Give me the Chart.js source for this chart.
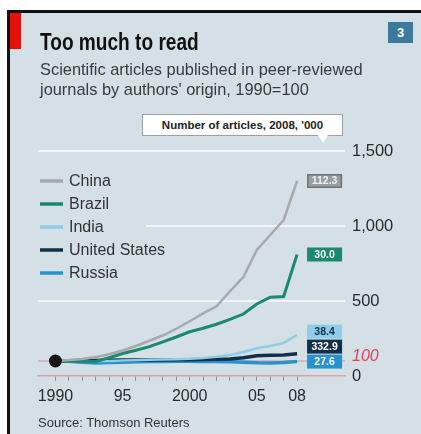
<!DOCTYPE html>
<html>
<head>
<meta charset="utf-8">
<script src="https://cdn.jsdelivr.net/npm/chart.js@4.4.1/dist/chart.umd.min.js"></script>
<style>
  html, body { margin: 0; padding: 0; background: #fff; }
  body { width: 421px; height: 434px; position: relative; overflow: hidden; font-family: "Liberation Sans", Arial, sans-serif; color: #222; }
  #panel { position: absolute; left: 7px; top: 10px; right: 0; bottom: 0; background: #d4dfe6; border-left: 3px solid #111; border-top: 3px solid #111; }
  #redtag { position: absolute; left: 10px; top: 13px; width: 11px; height: 36px; background: #e3120b; }
  #badge { position: absolute; left: 388px; top: 22px; width: 25px; height: 21px; background: #3b7a9b; color: #fff; font: bold 13px "Liberation Sans", sans-serif; text-align: center; line-height: 21px; }
  #title { position: absolute; left: 40px; top: 29px; font: bold 23px "Liberation Sans", sans-serif; color: #111; white-space: nowrap; transform: scaleX(0.83); transform-origin: left top; }
  #subtitle { position: absolute; left: 40px; top: 59px; font: 16.4px/20px "Liberation Sans", sans-serif; color: #3a3a3a; white-space: nowrap; }
  #note { position: absolute; left: 142px; top: 114px; width: 199px; height: 20px; background: #fff; border: 1px solid #9aa1a6; font: bold 11.5px/20px "Liberation Sans", sans-serif; color: #222; text-align: center; white-space: nowrap; }
  #note:after { content: ""; position: absolute; left: 175px; top: 20px; border-left: 5px solid transparent; border-right: 5px solid transparent; border-top: 8px solid #fff; }
  #source { position: absolute; left: 38px; top: 415px; font: 13px "Liberation Sans", sans-serif; color: #333; white-space: nowrap; }
  canvas { position: absolute; left: 0; top: 0; }
</style>
</head>
<body>
<div id="panel"></div>
<div id="redtag"></div>
<canvas id="chart" width="421" height="434"></canvas>
<div id="badge">3</div>
<div id="title">Too much to read</div>
<div id="subtitle">Scientific articles published in peer-reviewed<br>journals by authors' origin, 1990=100</div>
<div id="note">Number of articles, 2008, '000</div>
<div id="source">Source: Thomson Reuters</div>
<script>
const years = [1990, 1991, 1992, 1993, 1994, 1995, 1996, 1997, 1998, 1999, 2000, 2001, 2002, 2003, 2004, 2005, 2006, 2007, 2008];
const yearLabels = { 1990: '1990', 1995: '95', 2000: '2000', 2005: '05', 2008: '08' };

const seriesNames = ['China', 'Brazil', 'India', 'United States', 'Russia'];
const china  = [100, 106, 114, 126, 145, 170, 200, 235, 270, 315, 365, 418, 465, 565, 660, 840, 940, 1040, 1300];
const brazil = [100, 102, 98, 97, 122, 150, 172, 196, 228, 260, 295, 318, 345, 378, 413, 480, 525, 530, 810];
const india  = [100, 102, 100, 98, 100, 103, 105, 108, 110, 112, 115, 120, 128, 140, 160, 185, 200, 220, 275];
const usa    = [100, 102, 103, 104, 105, 106, 106, 107, 107, 108, 109, 110, 111, 113, 122, 135, 138, 140, 148];
const russia = [100, 98, 92, 86, 90, 92, 95, 96, 97, 98, 98, 97, 96, 95, 92, 88, 86, 90, 96];
// number of articles in 2008, '000
const articles2008 = ['112.3', '30.0', '38.4', '332.9', '27.6'];

const yTicks = [0, 500, 1000, 1500];

const lineColors = ['#a7a9ab', '#1b8a6b', '#8fcde8', '#12304c', '#2693cf'];
const boxColors  = ['#9b9ea1', '#1b8a6b', '#8fcde8', '#12304c', '#2693cf'];
const boxText    = ['#eef0f1', '#ffffff', '#12304c', '#ffffff', '#ffffff'];
const lineWidths = [2.5, 3, 2.5, 3.5, 3.5];

const allSeries = [china, brazil, india, usa, russia];

const toPoints = vals => vals.map((v, i) => ({ x: years[i], y: v }));

const datasets = allSeries.map((vals, i) => ({
    label: seriesNames[i],
    data: toPoints(vals),
    borderColor: lineColors[i],
    backgroundColor: lineColors[i],
    borderWidth: lineWidths[i],
    pointRadius: 0,
    tension: 0,
    order: i
}));

// base year marker
datasets.push({
    label: 'base',
    data: [{ x: years[0], y: 100 }],
    showLine: false,
    pointRadius: 6.5,
    pointBackgroundColor: '#151515',
    pointBorderWidth: 0,
    order: -1
});

const FONT = '"Liberation Sans", Arial, sans-serif';

const extras = {
    id: 'extras',
    beforeDatasetsDraw(chart) {
        const ctx = chart.ctx;
        const y = chart.scales.y;
        const area = chart.chartArea;

        // 1990 = 100 reference line
        const y100 = y.getPixelForValue(100);
        ctx.save();
        ctx.strokeStyle = 'rgba(222, 110, 125, 0.75)';
        ctx.lineWidth = 1;
        ctx.beginPath();
        ctx.moveTo(area.left, y100);
        ctx.lineTo(area.right, y100);
        ctx.stroke();

        ctx.fillStyle = '#e0435a';
        ctx.font = 'italic 16px ' + FONT;
        ctx.textBaseline = 'middle';
        ctx.textAlign = 'left';
        ctx.fillText('100', area.right + 7, y100 - 4);

        // legend (covers the grid line behind it)
        ctx.fillStyle = '#d4dfe6';
        ctx.fillRect(area.left, 168, 108, 118);
        ctx.font = '16px ' + FONT;
        seriesNames.forEach((name, i) => {
            const ly = 181 + i * 23;
            ctx.strokeStyle = lineColors[i];
            ctx.lineWidth = 3.5;
            ctx.beginPath();
            ctx.moveTo(40, ly);
            ctx.lineTo(63, ly);
            ctx.stroke();
            ctx.fillStyle = '#333';
            ctx.fillText(name, 69, ly + 1);
        });
        ctx.restore();
    },
    afterDatasetsDraw(chart) {
        const ctx = chart.ctx;
        const x = chart.scales.x, y = chart.scales.y;
        const bx = x.getPixelForValue(years[years.length - 1]) + 10;
        const bw = 35, bh = 14;

        // end labels, stacked bottom-up so they don't overlap
        const items = allSeries.map((vals, i) => ({ i, py: y.getPixelForValue(vals[vals.length - 1]) }));
        items.sort((a, b) => b.py - a.py);
        let prev = Infinity;
        items.forEach(it => {
            if (it.py > prev - (bh + 1)) it.py = prev - (bh + 1);
            prev = it.py;
        });

        ctx.save();
        ctx.font = 'bold 10.5px ' + FONT;
        ctx.textAlign = 'center';
        ctx.textBaseline = 'middle';
        items.forEach(it => {
            ctx.fillStyle = boxColors[it.i];
            ctx.fillRect(bx, it.py - bh / 2, bw, bh);
            if (it.i === 0) {
                ctx.strokeStyle = '#6f7275';
                ctx.lineWidth = 1.5;
                ctx.strokeRect(bx + 0.75, it.py - bh / 2 + 0.75, bw - 1.5, bh - 1.5);
            }
            ctx.fillStyle = boxText[it.i];
            ctx.fillText(articles2008[it.i], bx + bw / 2, it.py + 0.5);
        });
        ctx.restore();
    }
};

new Chart(document.getElementById('chart'), {
    type: 'line',
    data: { datasets },
    options: {
        responsive: false,
        animation: false,
        layout: { padding: { left: 38, top: 151, right: 0, bottom: 0 } },
        plugins: { legend: { display: false }, tooltip: { enabled: false } },
        scales: {
            x: {
                type: 'linear',
                min: 1988.7,
                max: 2011.57,
                afterFit: s => { s.height = 58; },
                afterBuildTicks: s => { s.ticks = years.map(v => ({ value: v })); },
                ticks: {
                    autoSkip: false,
                    maxRotation: 0,
                    padding: 6,
                    color: '#2b2b2b',
                    font: { family: FONT, size: 16 },
                    callback: v => yearLabels[v] || ''
                },
                grid: { drawOnChartArea: false, drawTicks: true, tickLength: 5, color: '#8d9297', lineWidth: 1 },
                border: { display: true, color: '#dba1aa', width: 1.5 }
            },
            y: {
                type: 'linear',
                position: 'right',
                min: 0,
                max: 1500,
                afterFit: s => { s.width = 76; },
                afterBuildTicks: s => { s.ticks = yTicks.map(v => ({ value: v })); },
                ticks: {
                    padding: 7,
                    color: '#2b2b2b',
                    font: { family: FONT, size: 16.5 },
                    callback: v => v.toLocaleString('en-US')
                },
                grid: {
                    drawTicks: false,
                    lineWidth: 2,
                    color: c => (c.tick && c.tick.value === 0) ? 'rgba(0,0,0,0)' : '#f3f6f8'
                },
                border: { display: false }
            }
        }
    },
    plugins: [extras]
});
</script>
</body>
</html>
